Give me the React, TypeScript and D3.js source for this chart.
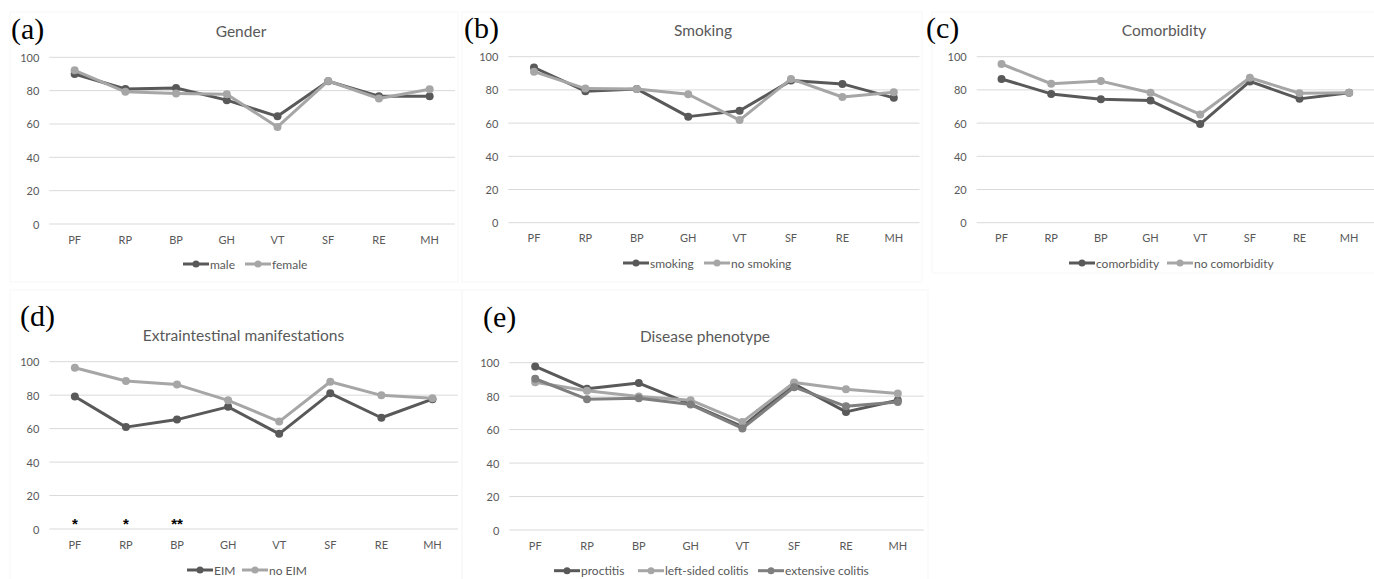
import React from 'react';
import * as d3 from 'd3';

// SF-36 domains
const domains = ['PF', 'RP', 'BP', 'GH', 'VT', 'SF', 'RE', 'MH'];
const yTicks = [0, 20, 40, 60, 80, 100];

// (a) gender
const male = [90, 81, 81.6, 74.3, 64.6, 85.6, 76.6, 76.6];
const female = [92.2, 79.3, 78.3, 77.8, 58.2, 85.8, 75.3, 80.8];

// (b) smoking
const smoking = [93.5, 79.2, 80.6, 63.9, 67.4, 85.6, 83.6, 75.2];
const noSmoking = [91, 80.8, 80.6, 77.4, 61.8, 86.6, 75.7, 78.6];

// (c) comorbidity
const comorbidity = [86.6, 77.6, 74.4, 73.6, 59.4, 85.1, 74.6, 78.3];
const noComorbidity = [95.6, 83.7, 85.3, 78.3, 65.2, 87.3, 78, 78.3];

// (d) extraintestinal manifestations
const eim = [79.2, 60.9, 65.4, 73, 56.9, 81.1, 66.5, 77.6];
const noEim = [96.4, 88.5, 86.3, 76.9, 64.2, 88, 79.9, 78.2];
const eimSignif = ['*', '*', '**', '', '', '', '', ''];

// (e) disease phenotype
const proctitis = [97.8, 84.4, 87.8, 75.3, 61.8, 87.2, 70.6, 77.6];
const leftSided = [88.3, 83.2, 79.8, 77.6, 64.6, 88.2, 84.1, 81.6];
const extensive = [90.4, 78.2, 78.8, 75, 60.7, 85.4, 73.9, 76.5];

const DARK = '#595959';
const LIGHT = '#a6a6a6';
const MID = '#7f7f7f';
const FONT = 'Lato, "Open Sans", sans-serif';

type Series = { name: string; values: number[]; color: string; legendX: number };

type PanelSpec = {
  tag: string;
  title: string;
  x0: number; x1: number; yTop: number; yBottom: number;
  titleX: number; titleY: number;
  tagX: number; tagY: number;
  legendY: number;
  frame: [number, number, number, number];
  series: Series[];
  signif?: string[];
};

const panels: PanelSpec[] = [
  {
    tag: '(a)', title: 'Gender',
    x0: 49.3, x1: 455, yTop: 57.3, yBottom: 224,
    titleX: 241, titleY: 31, tagX: 11, tagY: 39, legendY: 264,
    frame: [10, 12, 448, 270],
    series: [
      { name: 'male', values: male, color: DARK, legendX: 183 },
      { name: 'female', values: female, color: LIGHT, legendX: 245 },
    ],
  },
  {
    tag: '(b)', title: 'Smoking',
    x0: 508.3, x1: 919.5, yTop: 56.7, yBottom: 222.7,
    titleX: 703, titleY: 30, tagX: 464, tagY: 38, legendY: 263,
    frame: [462, 12, 460, 270],
    series: [
      { name: 'smoking', values: smoking, color: DARK, legendX: 623 },
      { name: 'no smoking', values: noSmoking, color: LIGHT, legendX: 704 },
    ],
  },
  {
    tag: '(c)', title: 'Comorbidity',
    x0: 976.7, x1: 1374, yTop: 56.7, yBottom: 222.7,
    titleX: 1164, titleY: 30, tagX: 926, tagY: 38, legendY: 263,
    frame: [932, 12, 450, 261],
    series: [
      { name: 'comorbidity', values: comorbidity, color: DARK, legendX: 1069 },
      { name: 'no comorbidity', values: noComorbidity, color: LIGHT, legendX: 1167 },
    ],
  },
  {
    tag: '(d)', title: 'Extraintestinal manifestations',
    x0: 49.3, x1: 458, yTop: 361.7, yBottom: 529,
    titleX: 243.5, titleY: 335, tagX: 20, tagY: 326, legendY: 570,
    frame: [10, 290, 452, 300],
    series: [
      { name: 'EIM', values: eim, color: DARK, legendX: 187 },
      { name: 'no EIM', values: noEim, color: LIGHT, legendX: 242 },
    ],
    signif: eimSignif,
  },
  {
    tag: '(e)', title: 'Disease phenotype',
    x0: 509.3, x1: 923.7, yTop: 362.7, yBottom: 530,
    titleX: 705, titleY: 336, tagX: 483, tagY: 327, legendY: 570.7,
    frame: [462, 290, 466, 300],
    series: [
      { name: 'proctitis', values: proctitis, color: DARK, legendX: 554 },
      { name: 'left-sided colitis', values: leftSided, color: LIGHT, legendX: 638 },
      { name: 'extensive colitis', values: extensive, color: MID, legendX: 758 },
    ],
  },
];

const Panel = ({ p }: { p: PanelSpec }) => {
  const x = d3.scaleBand<string>().domain(domains).range([p.x0, p.x1]).padding(0);
  const y = d3.scaleLinear().domain([0, 100]).range([p.yBottom, p.yTop]);
  const cx = (d: string) => (x(d) as number) + x.bandwidth() / 2;
  const line = d3.line<number>().x((_, i) => cx(domains[i])).y(v => y(v));

  return (
    <g>
      <rect x={p.frame[0]} y={p.frame[1]} width={p.frame[2]} height={p.frame[3]}
        fill="none" stroke="#f7f7f7" strokeWidth={1} />
      {/* gridlines + y tick labels */}
      {yTicks.map(t => (
        <g key={t}>
          <line x1={p.x0} x2={p.x1} y1={y(t)} y2={y(t)} stroke="#d9d9d9" strokeWidth={1} />
          <text x={p.x0 - 10} y={y(t)} textAnchor="end" dominantBaseline="central"
            fontSize={11} fill={DARK} fontFamily={FONT}>{t}</text>
        </g>
      ))}
      {/* category labels */}
      {domains.map(d => (
        <text key={d} x={cx(d)} y={p.yBottom + 15} textAnchor="middle" dominantBaseline="central"
          fontSize={11} fill={DARK} fontFamily={FONT}>{d}</text>
      ))}
      {/* series */}
      {p.series.map(s => (
        <g key={s.name}>
          <path d={line(s.values) as string} fill="none" stroke={s.color} strokeWidth={3}
            strokeLinejoin="round" />
          {s.values.map((v, i) => (
            <circle key={i} cx={cx(domains[i])} cy={y(v)} r={4} fill={s.color} />
          ))}
        </g>
      ))}
      {/* significance marks */}
      {p.signif && p.signif.map((s, i) => s ? (
        <text key={i} x={cx(domains[i])} y={y(0) - 0.5} textAnchor="middle" fontSize={15}
          fontWeight="bold" fill="#000" fontFamily='"Liberation Sans", sans-serif'>{s}</text>
      ) : null)}
      {/* title */}
      <text x={p.titleX} y={p.titleY} textAnchor="middle" dominantBaseline="central"
        fontSize={15.5} fill={DARK} fontFamily={FONT}>{p.title}</text>
      {/* panel tag */}
      <text x={p.tagX} y={p.tagY} fontSize={30} fill="#000"
        fontFamily='"Liberation Serif", "Times New Roman", serif'>{p.tag}</text>
      {/* legend */}
      {p.series.map(s => (
        <g key={'lg' + s.name}>
          <line x1={s.legendX} x2={s.legendX + 26} y1={p.legendY} y2={p.legendY}
            stroke={s.color} strokeWidth={3} />
          <circle cx={s.legendX + 13} cy={p.legendY} r={3.5} fill={s.color} />
          <text x={s.legendX + 27} y={p.legendY} dominantBaseline="central" fontSize={12}
            fill={DARK} fontFamily={FONT}>{s.name}</text>
        </g>
      ))}
    </g>
  );
};

export default function App() {
  return (
    <svg width={1374} height={579} style={{ position: 'absolute', left: 0, top: 0, background: '#fff' }}>
      <rect width={1374} height={579} fill="#fff" />
      {panels.map(p => <Panel key={p.tag} p={p} />)}
    </svg>
  );
}
